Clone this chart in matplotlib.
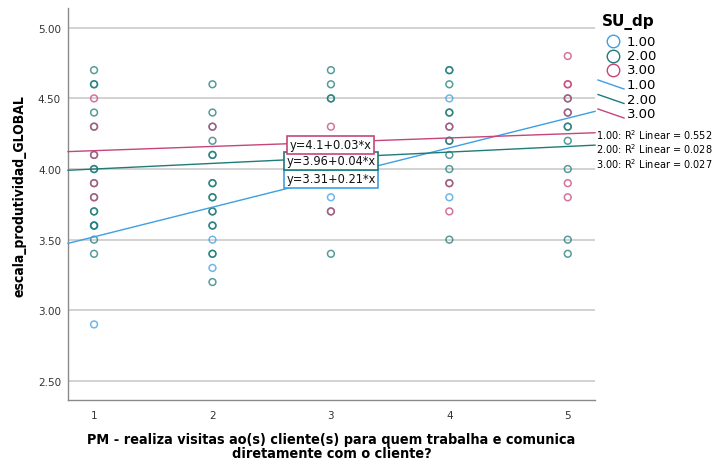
import matplotlib
matplotlib.use("Agg")
import matplotlib.pyplot as plt
import numpy as np
from matplotlib.lines import Line2D
from matplotlib import font_manager as fm

# ---------------- data ----------------
groups = ["1.00", "2.00", "3.00"]
colors = ["#3d9fe3", "#1e7b78", "#c6457b"]

x_blue = [1, 1, 2, 2, 3, 4, 4]
y_blue = [2.9, 3.6, 3.5, 3.3, 3.8, 4.5, 3.8]

x_teal = ([1] * 16 + [2] * 17 + [3] * 6 + [4] * 12 + [5] * 8)
y_teal = ([4.7, 4.6, 4.6, 4.4, 4.3, 4.1, 4.0, 4.0, 3.9, 3.8, 3.7, 3.7, 3.6, 3.6, 3.5, 3.4]
          + [4.6, 4.4, 4.3, 4.2, 4.1, 4.1, 3.9, 3.9, 3.8, 3.8, 3.7, 3.7, 3.6, 3.6, 3.4, 3.4, 3.2]
          + [4.7, 4.6, 4.5, 4.5, 3.7, 3.4]
          + [4.7, 4.7, 4.6, 4.4, 4.4, 4.3, 4.2, 4.2, 4.1, 4.0, 3.9, 3.5]
          + [4.5, 4.4, 4.3, 4.3, 4.2, 4.0, 3.5, 3.4])

x_pink = [1] * 5 + [2] + [3] * 2 + [4] * 3 + [5] * 7
y_pink = ([4.5, 4.3, 4.1, 3.9, 3.8] + [4.3] + [4.3, 3.7] + [4.3, 3.9, 3.7]
          + [4.8, 4.6, 4.6, 4.5, 4.4, 3.9, 3.8])

intercepts = [3.31, 3.96, 4.1]
slopes = [0.21, 0.04, 0.03]
eq_labels = ["y=3.31+0.21*x", "y=3.96+0.04*x", "y=4.1+0.03*x"]
r2_values = ["0.552", "0.028", "0.027"]

x_ticks = [1, 2, 3, 4, 5]
y_ticks = [2.5, 3.0, 3.5, 4.0, 4.5, 5.0]

x_label = "PM - realiza visitas ao(s) cliente(s) para quem trabalha e comunica\ndiretamente com o cliente?"
y_label = "escala_produtividad_GLOBAL"
legend_title = "SU_dp"

# ---------------- fonts ----------------
names = {f.name for f in fm.fontManager.ttflist}
narrow = "Liberation Sans Narrow" if "Liberation Sans Narrow" in names else "DejaVu Sans"
plt.rcParams['font.family'] = [narrow, 'DejaVu Sans']

# ---------------- figure ----------------
fig = plt.figure(figsize=(7.17, 4.64), dpi=100)
ax = fig.add_axes([68 / 717, 63 / 464, (595 - 68) / 717, (401 - 9) / 464])
ax.set_xlim(0.78, 5.23)
ax.set_ylim(2.365, 5.14)

for s in ["top", "right"]:
    ax.spines[s].set_visible(False)
for s in ["left", "bottom"]:
    ax.spines[s].set_color("#8a8a8a")
    ax.spines[s].set_linewidth(1.0)

ax.set_yticks(y_ticks)
ax.set_yticklabels([f"{v:.2f}" for v in y_ticks])
ax.set_xticks(x_ticks)
ax.set_xticklabels([str(v) for v in x_ticks])
ax.tick_params(axis="both", length=0, labelsize=7.5, colors="#333333")
ax.tick_params(axis="x", pad=7)
ax.tick_params(axis="y", pad=5)
ax.yaxis.grid(True, color="#d2d2d2", linewidth=1.4)
ax.set_axisbelow(True)

xs_all = [x_blue, x_teal, x_pink]
ys_all = [y_blue, y_teal, y_pink]
for xs, ys, c in zip(xs_all, ys_all, colors):
    ax.scatter(xs, ys, s=24, facecolors="none", edgecolors=c, linewidths=1.1,
               alpha=0.75, zorder=3)

xl = np.array(ax.get_xlim())
for b0, b1, c in zip(intercepts, slopes, colors):
    ax.plot(xl, b0 + b1 * xl, color=c, linewidth=1.0, zorder=4, clip_on=False)

# equation boxes (placed near x=3, stacked)
eq_pos = [(3.0, 3.93), (3.0, 4.057), (2.995, 4.172)]
for (ex, ey), lab, c in zip(eq_pos, eq_labels, colors):
    ax.text(ex, ey, lab, fontsize=9.2, ha="center", va="center", color="#111111",
            family=["DejaVu Sans"], fontstretch="condensed",
            bbox=dict(boxstyle="square,pad=0.18", facecolor="white", edgecolor=c,
                      linewidth=1.2), zorder=6)

ax.set_ylabel(y_label, fontsize=10, fontweight="bold", family=["DejaVu Sans"],
              fontstretch="condensed")
ax.yaxis.set_label_coords(-0.078, 0.523)
ax.set_xlabel(x_label, fontsize=10.4, fontweight="bold", linespacing=0.95,
              family=["DejaVu Sans"], fontstretch="condensed", labelpad=9)

# ---------------- legend (manual) ----------------
W, H = 717, 464
def fx(px):
    return px / W
def fy(py):
    return 1 - py / H

fig.text(fx(602), fy(22), legend_title, fontsize=11, fontweight="bold",
         va="center", ha="left", family=["DejaVu Sans"])
for i, (g, c) in enumerate(zip(groups, colors)):
    yy = 42 + i * 14.5
    fig.add_artist(Line2D([fx(613)], [fy(yy)], marker="o", markersize=9,
                          markerfacecolor="none", markeredgecolor=c,
                          markeredgewidth=1.0, linestyle="none"))
    fig.text(fx(627), fy(yy), g, fontsize=9.5, va="center", ha="left",
             family=["DejaVu Sans"])
for i, (g, c) in enumerate(zip(groups, colors)):
    yy = 86 + i * 14.5
    fig.add_artist(Line2D([fx(598), fx(624)], [fy(yy - 5), fy(yy + 4)],
                          color=c, linewidth=1.0))
    fig.text(fx(627), fy(yy), g, fontsize=9.5, va="center", ha="left",
             family=["DejaVu Sans"])
for i, (g, r2) in enumerate(zip(groups, r2_values)):
    yy = 135 + i * 14.5
    fig.text(fx(596), fy(yy), f"{g}: R$^2$ Linear = {r2}", fontsize=7,
             va="center", ha="left", family=["DejaVu Sans"])

fig.savefig("out.png", dpi=100)
